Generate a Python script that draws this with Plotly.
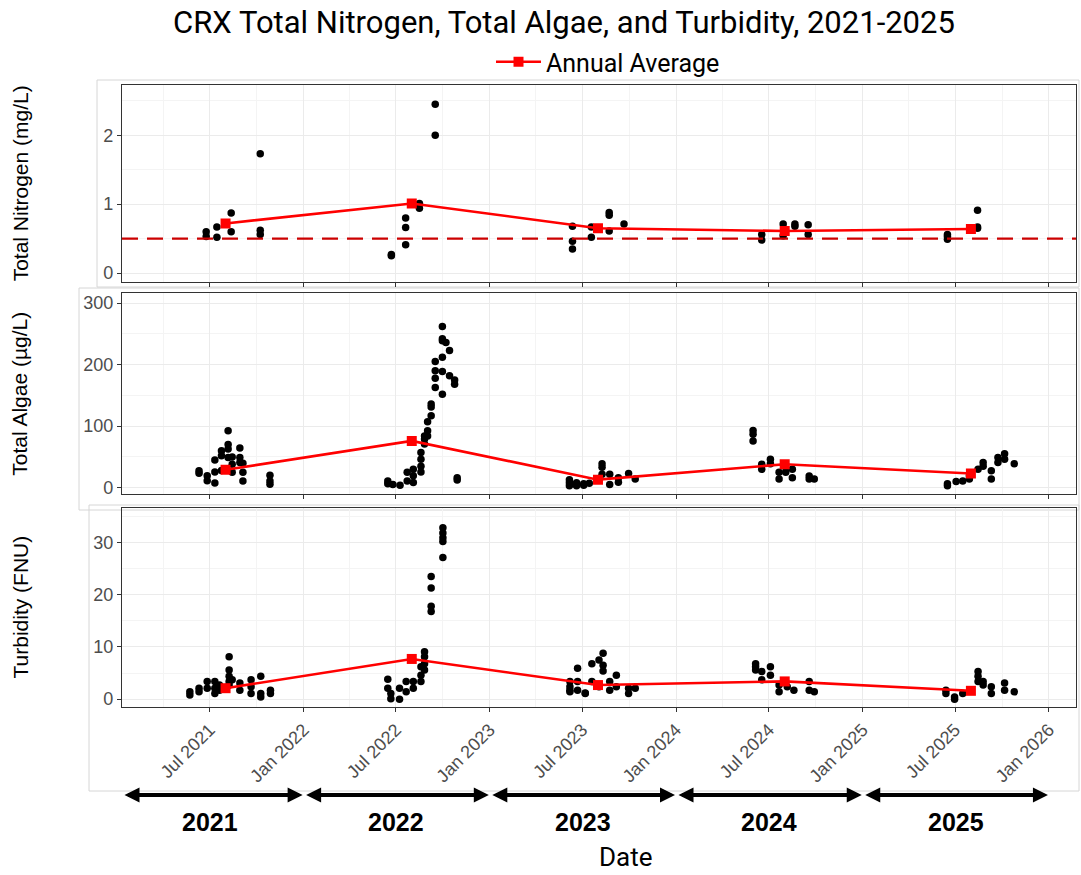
import plotly.graph_objects as go
from plotly.subplots import make_subplots

# Total nitrogen grabs (mg/L), several readings per sampling date
tn_dates = ['2021-06-24', '2021-07-15', '2021-08-12', '2021-10-08',
            '2022-06-22', '2022-07-20', '2022-08-16', '2022-09-16',
            '2023-06-12', '2023-07-19', '2023-08-23', '2023-09-21',
            '2024-06-17', '2024-07-29', '2024-08-21', '2024-09-16',
            '2025-06-16', '2025-08-14']
tn_values = [[0.60, 0.53], [0.67, 0.52], [0.87, 0.60], [1.73, 0.62, 0.56],
             [0.27, 0.25], [0.80, 0.66, 0.41], [1.01, 0.94], [2.45, 2.00],
             [0.68, 0.46, 0.35], [0.67, 0.52], [0.88, 0.84, 0.61], [0.71],
             [0.56, 0.48], [0.71, 0.54], [0.71, 0.68], [0.70, 0.56],
             [0.56, 0.53, 0.49], [0.91, 0.67, 0.65]]

# Total algae (ug/L)
algae_dates = ['2021-06-10', '2021-06-26', '2021-07-11', '2021-07-24', '2021-08-06',
               '2021-08-14', '2021-08-29', '2021-09-04', '2021-10-27',
               '2022-06-15', '2022-06-25', '2022-07-09', '2022-07-23', '2022-08-04',
               '2022-08-19', '2022-08-26', '2022-09-01', '2022-09-08', '2022-09-16',
               '2022-09-30', '2022-10-07', '2022-10-14', '2022-10-24', '2022-10-29',
               '2023-06-06', '2023-06-20', '2023-07-04', '2023-07-15', '2023-08-09',
               '2023-08-24', '2023-09-10', '2023-09-30', '2023-10-13',
               '2024-05-31', '2024-06-17', '2024-07-04', '2024-07-21', '2024-08-03',
               '2024-08-16', '2024-09-18', '2024-09-28',
               '2025-06-16', '2025-07-03', '2025-07-16', '2025-07-29', '2025-08-15',
               '2025-08-25', '2025-09-10', '2025-09-23', '2025-10-06', '2025-10-25']
algae_values = [[27.6, 23.3], [19.5, 11.4], [45, 25.5, 7.6], [60, 52, 28], [92.7, 70, 63, 49],
                [50, 38, 25], [64.5, 49, 41], [39.5, 25, 11], [20, 11, 5.5],
                [11, 6.5], [5], [4], [25, 11], [30, 19.5, 8.6],
                [57, 46, 35, 25.5], [84, 79, 71], [107, 92.7, 84], [136, 131, 117], [205, 190, 178, 163],
                [262, 242, 239, 212, 189, 152], [236], [223, 182], [175, 168], [16, 12.5],
                [13, 8, 3], [8, 3], [6.5, 4], [7], [39, 33, 22],
                [22, 5], [16, 9], [23], [14],
                [93, 87, 76], [38, 30], [46, 39], [25, 14], [33, 25],
                [30, 16], [19, 14], [14],
                [6.5, 3], [10], [11], [19.5, 14], [30],
                [41, 35], [27.6, 14], [49, 41], [55, 46], [39]]

# Turbidity (FNU)
turb_dates = ['2021-05-23', '2021-06-10', '2021-06-26', '2021-07-11', '2021-07-20',
              '2021-08-08', '2021-08-14', '2021-08-29', '2021-09-20', '2021-10-09', '2021-10-28',
              '2022-06-15', '2022-06-21', '2022-07-08', '2022-07-21', '2022-08-04',
              '2022-08-19', '2022-08-26', '2022-09-08', '2022-10-01',
              '2023-06-07', '2023-06-22', '2023-07-07', '2023-07-20', '2023-08-03',
              '2023-08-11', '2023-08-24', '2023-09-06', '2023-09-30', '2023-10-13',
              '2024-06-05', '2024-06-17', '2024-07-04', '2024-07-21', '2024-08-06',
              '2024-08-19', '2024-09-18', '2024-09-28',
              '2025-06-13', '2025-06-30', '2025-07-16', '2025-08-15', '2025-08-25',
              '2025-09-10', '2025-10-06', '2025-10-25']
turb_values = [[1.4, 0.8], [2.1, 1.4], [3.4, 2.1], [3.4, 2.1, 1.1], [2.7, 1.7],
               [8.1, 5.6, 4.4, 3.4, 2.7], [3.7], [3.1, 1.7], [3.7, 2.4, 1.1], [4.4, 1.1, 0.4], [1.7, 1.1],
               [3.8, 2.1], [1.1, 0.1], [2.1, 0.0], [3.4, 1.4], [3.4, 2.1],
               [6.2, 4.6, 3.4], [9.1, 8.1, 6.8, 5.6], [23.5, 21.3, 17.8, 16.8], [32.8, 31.8, 30.9, 30.2, 27.1],
               [3.4, 2.4, 1.4, 1.7], [5.9, 3.4, 1.7], [1.2, 1.1], [6.8, 3.4], [7.5, 2.4],
               [8.8, 6.5, 5.4], [3.4, 1.7], [4.6, 2.4], [2.1, 1.1], [2.1],
               [6.8, 6.2, 5.6], [5.3, 3.7], [6.2, 4.6], [2.7, 1.4], [2.4],
               [1.7], [3.4, 1.7], [1.4],
               [1.7, 1.1], [0.4, 0.0], [1.1], [5.3, 4.4, 3.4], [3.4, 2.7],
               [2.4, 1.1], [3.1, 1.7], [1.4]]

# Annual averages
avg_dates = ['2021-08-01', '2022-08-01', '2023-08-01', '2024-08-01', '2025-08-01']
tn_avg = [0.72, 1.01, 0.65, 0.61, 0.64]
algae_avg = [29, 76, 13, 38, 23]
turb_avg = [2.1, 7.7, 2.7, 3.4, 1.6]

tn_target = 0.5
years = [2021, 2022, 2023, 2024, 2025]
x_range = ['2021-01-10', '2026-02-23']

TICK_FONT = dict(family='Liberation Sans, Arial', size=18, color='#4D4D4D')
TEXT_FONT = 'Roboto, Liberation Sans, Arial'

# plot area in pixels
W, H = 1081, 875
L, R, T, B = 122, 1076, 85, 707
pw, ph = R - L, B - T


def px_x(x):
    return (x - L) / pw


def px_y(y):
    return (B - y) / ph


def expand(dates, values):
    xs = [d for d, vals in zip(dates, values) for _ in vals]
    ys = [v for vals in values for v in vals]
    return xs, ys


panels = [
    (tn_dates, tn_values, tn_avg, 'Total Nitrogen (mg/L)', [-0.126, 2.73], 1, 0.5),
    (algae_dates, algae_values, algae_avg, 'Total Algae (µg/L)', [-10.3, 316], 100, 50),
    (turb_dates, turb_values, turb_avg, 'Turbidity (FNU)', [-1.5, 36.6], 10, 5),
]
domains = [[px_y(281.7), 1.0], [px_y(494), px_y(293.3)], [0.0, px_y(508)]]

fig = make_subplots(rows=3, cols=1, shared_xaxes=True)

for i, (dates, values, avg, title, yr, dt, mdt) in enumerate(panels):
    row = i + 1
    xs, ys = expand(dates, values)
    fig.add_trace(go.Scatter(
        x=xs, y=ys, mode='markers',
        marker=dict(color='black', size=7.5),
        showlegend=False, hoverinfo='x+y'
    ), row=row, col=1)
    if row == 1:
        fig.add_hline(y=tn_target, line=dict(color='#CC0000', width=2.2, dash='16px,9px'), row=1, col=1)
    fig.add_trace(go.Scatter(
        x=avg_dates, y=avg, mode='lines+markers',
        line=dict(color='#FF0000', width=2.6),
        marker=dict(symbol='square', size=10, color='#FF0000'),
        name='Annual Average', showlegend=(row == 1)
    ), row=row, col=1)
    fig.update_yaxes(
        range=yr, dtick=dt, tick0=0, domain=domains[i],
        showgrid=True, gridcolor='#EBEBEB', gridwidth=1.2,
        minor=dict(dtick=mdt, tick0=0, showgrid=True, gridcolor='#F4F4F4', gridwidth=0.8),
        ticks='outside', ticklen=4, tickcolor='#333333',
        showline=True, linecolor='#333333', linewidth=1.2, mirror=True,
        zeroline=False, tickfont=TICK_FONT,
        row=row, col=1
    )
    cy = (domains[i][0] + domains[i][1]) / 2
    fig.add_annotation(
        text=title, textangle=-90, xref='paper', yref='paper',
        x=px_x(20), y=cy, xanchor='center', yanchor='middle', showarrow=False,
        font=dict(family='Liberation Sans, Arial', size=21, color='black')
    )

fig.update_xaxes(
    type='date', range=x_range, dtick='M6', tick0='2021-01-01', tickformat='%b %Y',
    showgrid=True, gridcolor='#EBEBEB', gridwidth=1.2,
    minor=dict(dtick='M3', tick0='2021-01-01', showgrid=True, gridcolor='#F4F4F4', gridwidth=0.8),
    ticks='outside', ticklen=4, tickcolor='#333333',
    showline=True, linecolor='#333333', linewidth=1.2, mirror=True,
    zeroline=False, tickfont=TICK_FONT
)
fig.update_xaxes(tickangle=-45, row=3, col=1)

# year arrows under the axis
for yv in years:
    start = max(f'{yv}-01-01', x_range[0])
    fig.add_annotation(
        x=f'{yv + 1}-01-01', y=-0.442, xref='x3', yref='y3 domain',
        ax=start, ay=-0.442, axref='x3', ayref='y3 domain',
        text='', showarrow=True, arrowhead=2, startarrowhead=2, arrowside='end+start',
        arrowsize=0.75, startarrowsize=0.75, arrowwidth=4, arrowcolor='black',
        standoff=1, startstandoff=1
    )
    fig.add_annotation(
        x=f'{yv}-07-02', y=px_y(822), xref='x3', yref='paper',
        text=f'<b>{yv}</b>', showarrow=False, yanchor='middle',
        font=dict(family='Liberation Sans, Arial', size=25, color='black')
    )

fig.add_annotation(
    text='Date', x=px_x(626), y=px_y(857), xref='paper', yref='paper',
    showarrow=False, yanchor='middle', font=dict(family=TEXT_FONT, size=26, color='black')
)

# faint frames around the stacked panels
for x0, y0, x1, y1 in [(97, 80, 1079, 287), (79, 288, 1079, 510), (89, 505, 1079, 791)]:
    fig.add_shape(type='rect', xref='paper', yref='paper',
                  x0=px_x(x0), x1=px_x(x1), y0=px_y(y1), y1=px_y(y0),
                  line=dict(color='#D6D6D6', width=1), layer='below')

fig.update_layout(
    width=W, height=H,
    margin=dict(l=L, r=W - R, t=T, b=H - B, autoexpand=False),
    paper_bgcolor='white', plot_bgcolor='white',
    title=dict(
        text='CRX Total Nitrogen, Total Algae, and Turbidity, 2021-2025',
        x=564 / W, xanchor='center', y=1 - 22 / H, yanchor='middle',
        font=dict(family=TEXT_FONT, size=31, color='black')
    ),
    legend=dict(
        orientation='h', x=px_x(608), xanchor='center', y=px_y(62), yanchor='middle',
        font=dict(family=TEXT_FONT, size=25, color='black'),
        itemwidth=45, bgcolor='rgba(0,0,0,0)'
    ),
    showlegend=True,
)

# drop the default page margin so the figure sits at the window's top-left corner
fig.write_html('out.html', config={'displayModeBar': False},
               post_script="document.body.style.margin = '0px';")
